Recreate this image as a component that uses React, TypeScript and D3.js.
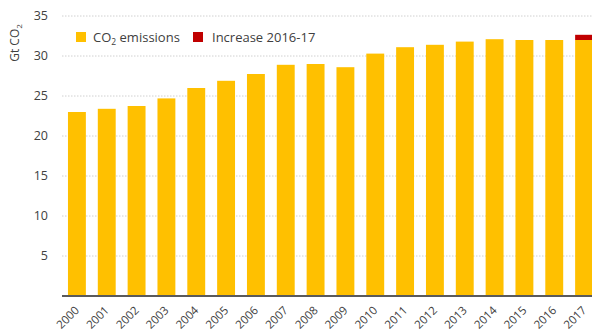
import React from "react";
import * as d3 from "d3";

const years = ["2000","2001","2002","2003","2004","2005","2006","2007","2008","2009","2010","2011","2012","2013","2014","2015","2016","2017"];
const emissions = [23.0, 23.4, 23.75, 24.7, 26.0, 26.9, 27.75, 28.9, 29.0, 28.6, 30.3, 31.1, 31.4, 31.8, 32.1, 32.0, 32.0, 32.0];
const increase = [0, 0, 0, 0, 0, 0, 0, 0, 0, 0, 0, 0, 0, 0, 0, 0, 0, 0.65];
const yTicks = [5, 10, 15, 20, 25, 30, 35];

const W = 592, H = 336;
const FONT = "Open Sans, Liberation Sans, sans-serif";
const GOLD = "#FFC000";
const RED = "#C00000";
const TXT = "#404040";

export default function App() {
  const x = d3.scaleBand<string>().domain(years).range([62, 599]).paddingInner(0.4).paddingOuter(0.2);
  const y = d3.scaleLinear().domain([0, 35]).range([296, 16]);
  return (
    <svg width={W} height={H} style={{ position: "absolute", left: 0, top: 0, background: "#fff" }} fontFamily={FONT}>
      {yTicks.map((t) => (
        <g key={t}>
          <line x1={62} x2={W} y1={y(t)} y2={y(t)} stroke="#d0d0d0" strokeWidth={1} strokeDasharray="1.5,1.5" />
          <text x={48} y={y(t)} dy="0.35em" textAnchor="end" fontSize={12.5} fill={TXT}>{t}</text>
        </g>
      ))}
      {years.map((yr, i) => (
        <g key={yr}>
          <rect x={x(yr)} width={x.bandwidth()} y={y(emissions[i])} height={y(0) - y(emissions[i])} fill={GOLD} />
          {increase[i] > 0 && (
            <rect x={x(yr)} width={x.bandwidth()} y={y(emissions[i] + increase[i])} height={y(emissions[i]) - y(emissions[i] + increase[i])} fill={RED} />
          )}
          <text
            transform={`translate(${(x(yr) as number) + x.bandwidth() / 2 + 3},${311}) rotate(-45)`}
            textAnchor="end"
            fontSize={11.5}
            fill={TXT}
          >{yr}</text>
        </g>
      ))}
      <line x1={62} x2={W} y1={y(0)} y2={y(0)} stroke="#5a5a5a" strokeWidth={2} />
      <text transform={`translate(19,${43}) rotate(-90)`} textAnchor="middle" fontSize={12} fill={TXT}>
        Gt CO<tspan fontSize={8} dy={3}>2</tspan>
      </text>
      <rect x={76} y={32} width={10} height={10} fill={GOLD} />
      <text x={93} y={42} fontSize={13} fill={TXT}>
        CO<tspan fontSize={8.5} dy={3}>2</tspan><tspan dy={-3}> emissions</tspan>
      </text>
      <rect x={193} y={32} width={10} height={10} fill={RED} />
      <text x={212} y={42} fontSize={13} fill={TXT}>Increase 2016-17</text>
    </svg>
  );
}
